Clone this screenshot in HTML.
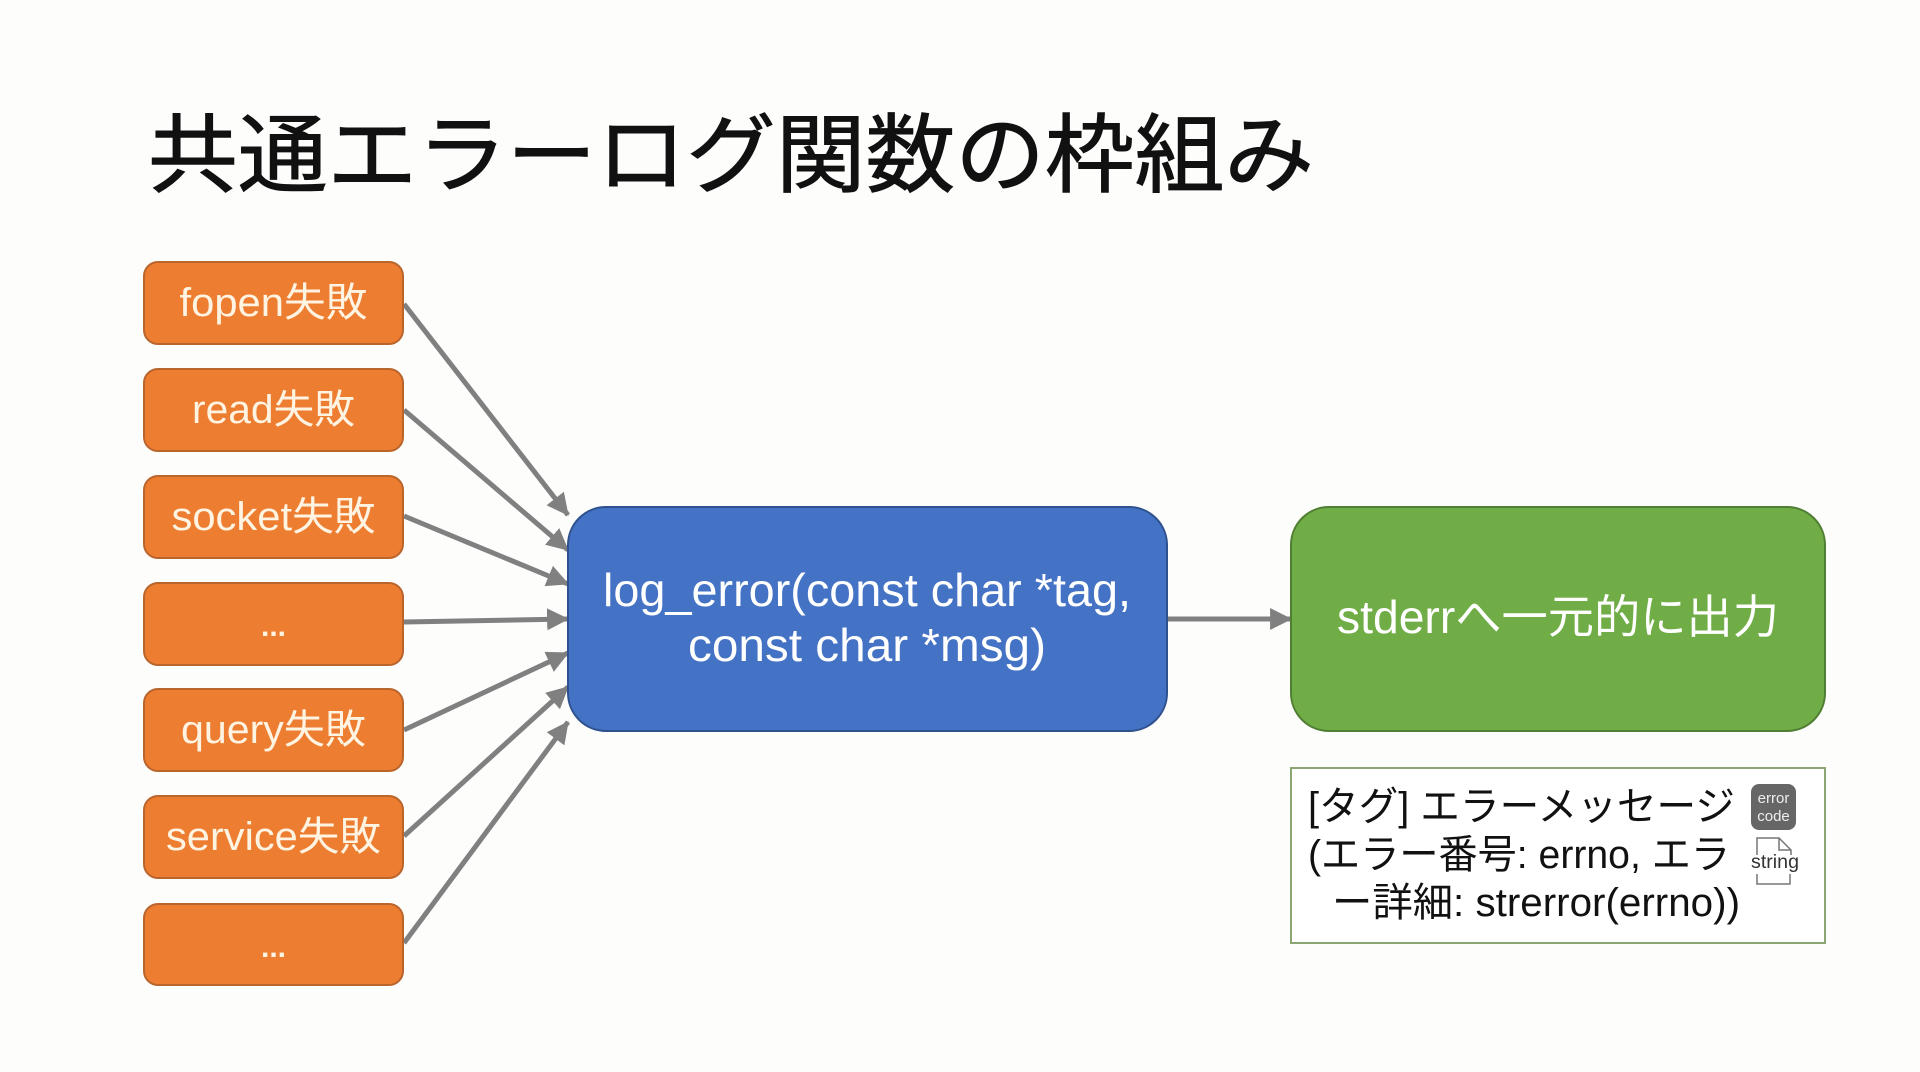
<!DOCTYPE html>
<html lang="ja"><head><meta charset="utf-8"><title>共通エラーログ関数の枠組み</title>
<style>
html,body{margin:0;padding:0;background:#fdfdfc;width:1920px;height:1072px;overflow:hidden}
svg{display:block}
text{font-family:"Liberation Sans","Noto Sans CJK JP",sans-serif}
</style></head><body>
<svg width="1920" height="1072" viewBox="0 0 1920 1072" xmlns="http://www.w3.org/2000/svg">
<rect width="1920" height="1072" fill="#fdfdfc"/>
<text x="148" y="185" font-size="86" fill="#111" stroke="#111" stroke-width="1" textLength="1166" lengthAdjust="spacingAndGlyphs">共通エラーログ関数の枠組み</text>
<defs><marker id="a" viewBox="0 0 10 10" refX="9.5" refY="5" markerWidth="4.4" markerHeight="4.4" orient="auto"><path d="M0 0L10 5L0 10z" fill="#808080"/></marker></defs>
<g stroke="#808080" stroke-width="5" fill="none">
<line x1="404" y1="304" x2="568" y2="515" marker-end="url(#a)"/>
<line x1="404" y1="410" x2="568" y2="550" marker-end="url(#a)"/>
<line x1="404" y1="516" x2="568" y2="584" marker-end="url(#a)"/>
<line x1="404" y1="622" x2="568" y2="619" marker-end="url(#a)"/>
<line x1="404" y1="730" x2="568" y2="653" marker-end="url(#a)"/>
<line x1="404" y1="836" x2="568" y2="687" marker-end="url(#a)"/>
<line x1="404" y1="943" x2="568" y2="722" marker-end="url(#a)"/>
<line x1="1167" y1="619" x2="1291" y2="619" marker-end="url(#a)"/>
</g>
<g fill="#ed7d31" stroke="#b9652c" stroke-width="2">
<rect x="144" y="262" width="259" height="82" rx="14"/>
<rect x="144" y="369" width="259" height="82" rx="14"/>
<rect x="144" y="476" width="259" height="82" rx="14"/>
<rect x="144" y="583" width="259" height="82" rx="14"/>
<rect x="144" y="689" width="259" height="82" rx="14"/>
<rect x="144" y="796" width="259" height="82" rx="14"/>
<rect x="144" y="904" width="259" height="81" rx="14"/>
</g>
<g fill="#fff3e2" font-size="40" text-anchor="middle">
<text x="273.500" y="316" textLength="188" lengthAdjust="spacingAndGlyphs">fopen失敗</text>
<text x="273.500" y="423" textLength="163" lengthAdjust="spacingAndGlyphs">read失敗</text>
<text x="273.500" y="530" textLength="204" lengthAdjust="spacingAndGlyphs">socket失敗</text>
<text x="273.500" y="636" font-size="30" font-weight="bold">...</text>
<text x="273.500" y="743" textLength="185" lengthAdjust="spacingAndGlyphs">query失敗</text>
<text x="273.500" y="850" textLength="215" lengthAdjust="spacingAndGlyphs">service失敗</text>
<text x="273.500" y="957" font-size="30" font-weight="bold">...</text>
</g>
<rect x="568" y="507" width="599" height="224" rx="38" fill="#4472c4" stroke="#2f528f" stroke-width="2"/>
<g fill="#fff" font-size="46" text-anchor="middle">
<text x="867" y="606" textLength="528" lengthAdjust="spacingAndGlyphs">log_error(const char *tag,</text>
<text x="867" y="661" textLength="358" lengthAdjust="spacingAndGlyphs">const char *msg)</text>
</g>
<rect x="1291" y="507" width="534" height="224" rx="38" fill="#70ad47" stroke="#507e32" stroke-width="2"/>
<text x="1558" y="633" fill="#fff" font-size="46" text-anchor="middle" textLength="442" lengthAdjust="spacingAndGlyphs">stderrへ一元的に出力</text>
<rect x="1291" y="768" width="534" height="175" fill="#fff" stroke="#8ba673" stroke-width="2"/>
<g fill="#111" font-size="40">
<text x="1308" y="820" textLength="427" lengthAdjust="spacingAndGlyphs">[タグ] エラーメッセージ</text>
<text x="1308" y="868" textLength="422" lengthAdjust="spacingAndGlyphs">(エラー番号: errno, エラ</text>
<text x="1332" y="916" textLength="408" lengthAdjust="spacingAndGlyphs">ー詳細: strerror(errno))</text>
</g>
<rect x="1751" y="784" width="45" height="46" rx="8" fill="#666"/>
<g fill="#eee" font-size="15" text-anchor="middle">
<text x="1773.500" y="803">error</text>
<text x="1773.500" y="821">code</text>
</g>
<path d="M1757 855V838H1779L1791 850V855M1757 874V884H1790V874M1779 838V850H1791" fill="none" stroke="#777" stroke-width="1.5"/>
<text x="1775" y="868" fill="#333" font-size="19" text-anchor="middle" textLength="48" lengthAdjust="spacingAndGlyphs">string</text>
</svg>
</body></html>
